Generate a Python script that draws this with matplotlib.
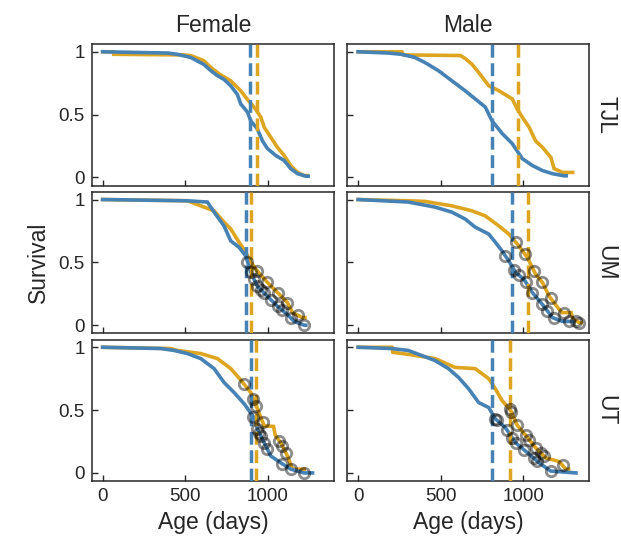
import matplotlib.pyplot as plt
import numpy as np

plt.rcParams['font.family'] = ['Liberation Sans', 'DejaVu Sans']

# colours for the two groups
c_orange = '#DDA520'
c_blue = '#4682B4'
ink = '#262626'

sexes = ['Female', 'Male']
sites = ['TJL', 'UM', 'UT']

# survival curves: age (days), survival
# orange = group A, blue = group B

tjl_f_a_age = [0, 66, 67, 493, 533, 612, 655, 710, 775, 836, 877, 917, 958, 978, 1018, 1058, 1099, 1139, 1180, 1220, 1240]
tjl_f_a_surv = [1, 1, 0.98, 0.975, 0.97, 0.93, 0.875, 0.82, 0.77, 0.69, 0.62, 0.56, 0.48, 0.40, 0.32, 0.24, 0.175, 0.095, 0.04, 0.015, 0.015]
tjl_f_b_age = [0, 394, 452, 533, 612, 655, 695, 735, 775, 816, 836, 877, 897, 937, 968, 998, 1048, 1099, 1139, 1180, 1230, 1245]
tjl_f_b_surv = [1, 0.99, 0.98, 0.955, 0.90, 0.85, 0.81, 0.78, 0.73, 0.66, 0.585, 0.52, 0.45, 0.386, 0.29, 0.23, 0.175, 0.135, 0.07, 0.03, 0.01, 0.01]

tjl_m_a_age = [0, 265, 275, 620, 650, 690, 730, 791, 852, 933, 963, 994, 1035, 1075, 1116, 1167, 1187, 1238, 1299]
tjl_m_a_surv = [1, 1, 0.975, 0.97, 0.945, 0.90, 0.835, 0.73, 0.69, 0.625, 0.545, 0.48, 0.40, 0.29, 0.24, 0.16, 0.07, 0.04, 0.04]
tjl_m_b_age = [0, 181, 262, 343, 404, 486, 567, 648, 709, 770, 811, 872, 933, 994, 1055, 1116, 1177, 1248, 1260]
tjl_m_b_surv = [1, 0.99, 0.98, 0.955, 0.915, 0.85, 0.77, 0.69, 0.625, 0.56, 0.45, 0.35, 0.27, 0.15, 0.095, 0.055, 0.03, 0.013, 0.013]

um_f_a_age = [0, 513, 594, 675, 735, 776, 826, 867, 897, 937, 998, 1059, 1119, 1150, 1210, 1225]
um_f_a_surv = [1, 0.99, 0.95, 0.91, 0.82, 0.765, 0.66, 0.58, 0.50, 0.43, 0.34, 0.26, 0.18, 0.10, 0.06, 0.06]
um_f_b_age = [0, 513, 634, 675, 735, 776, 826, 867, 897, 937, 998, 1059, 1119, 1160, 1220, 1230]
um_f_b_surv = [1, 0.99, 0.98, 0.90, 0.79, 0.67, 0.62, 0.55, 0.42, 0.31, 0.23, 0.15, 0.085, 0.03, 0.0, 0.0]

um_m_a_age = [0, 303, 404, 567, 689, 770, 852, 913, 974, 1024, 1075, 1116, 1157, 1218, 1235, 1290, 1300, 1340, 1350]
um_m_a_surv = [1, 0.99, 0.985, 0.95, 0.91, 0.87, 0.79, 0.725, 0.63, 0.54, 0.405, 0.34, 0.23, 0.125, 0.10, 0.10, 0.05, 0.02, 0.02]
um_m_b_age = [0, 303, 364, 465, 567, 648, 709, 791, 831, 872, 913, 953, 1004, 1055, 1116, 1177, 1238, 1299]
um_m_b_surv = [1, 0.98, 0.965, 0.94, 0.90, 0.845, 0.78, 0.725, 0.66, 0.59, 0.51, 0.42, 0.365, 0.26, 0.165, 0.06, 0.03, 0.03]

ut_f_a_age = [0, 412, 453, 594, 695, 776, 836, 897, 937, 978, 1035, 1045, 1079, 1119, 1150, 1220]
ut_f_a_surv = [1, 0.99, 0.975, 0.95, 0.91, 0.83, 0.74, 0.64, 0.51, 0.375, 0.37, 0.30, 0.24, 0.135, 0.03, 0.03]
ut_f_b_age = [0, 352, 432, 513, 594, 675, 735, 796, 857, 917, 937, 978, 1018, 1079, 1139, 1220, 1271]
ut_f_b_surv = [1, 0.99, 0.975, 0.95, 0.91, 0.83, 0.72, 0.64, 0.55, 0.44, 0.35, 0.24, 0.135, 0.08, 0.03, 0.0, 0.0]

ut_m_a_age = [0, 205, 211, 323, 465, 587, 709, 791, 831, 872, 923, 963, 1014, 1075, 1136, 1218, 1258, 1275]
ut_m_a_surv = [1, 1, 0.96, 0.94, 0.91, 0.84, 0.83, 0.75, 0.67, 0.575, 0.50, 0.38, 0.30, 0.20, 0.12, 0.09, 0.03, 0.03]
ut_m_b_age = [0, 201, 303, 384, 465, 547, 608, 669, 730, 791, 831, 892, 953, 1035, 1096, 1166, 1319]
ut_m_b_surv = [1, 0.99, 0.975, 0.935, 0.895, 0.83, 0.76, 0.67, 0.56, 0.52, 0.43, 0.36, 0.24, 0.15, 0.08, 0.015, 0.0]

# censored ages (circles)
um_f_a_cens = [937, 998, 1059, 1119, 1180]
um_f_b_cens = [877, 897, 917, 937, 958, 978, 1018, 1059, 1089, 1139, 1220]
um_m_a_cens = [953, 1010, 1065, 1116, 1167, 1248, 1319, 1340]
um_m_b_cens = [892, 943, 974, 1014, 1055, 1116, 1146, 1187, 1279]
ut_f_a_cens = [857, 913, 931, 968, 1069, 1089, 1109]
ut_f_b_cens = [913, 937, 948, 958, 978, 998, 1089, 1139, 1220]
ut_m_a_cens = [919, 928, 963, 1014, 1035, 1075, 1106, 1126, 1238]
ut_m_b_cens = [831, 841, 902, 933, 953, 1004, 1065, 1085, 1166]

# median survival (dashed lines)
median_a = [[937, 970], [897, 1029], [931, 917]]
median_b = [[891, 811], [867, 929], [901, 811]]

curves = {
    ('TJL', 'Female'): (tjl_f_a_age, tjl_f_a_surv, tjl_f_b_age, tjl_f_b_surv, [], []),
    ('TJL', 'Male'): (tjl_m_a_age, tjl_m_a_surv, tjl_m_b_age, tjl_m_b_surv, [], []),
    ('UM', 'Female'): (um_f_a_age, um_f_a_surv, um_f_b_age, um_f_b_surv, um_f_a_cens, um_f_b_cens),
    ('UM', 'Male'): (um_m_a_age, um_m_a_surv, um_m_b_age, um_m_b_surv, um_m_a_cens, um_m_b_cens),
    ('UT', 'Female'): (ut_f_a_age, ut_f_a_surv, ut_f_b_age, ut_f_b_surv, ut_f_a_cens, ut_f_b_cens),
    ('UT', 'Male'): (ut_m_a_age, ut_m_a_surv, ut_m_b_age, ut_m_b_surv, ut_m_a_cens, ut_m_b_cens),
}

fig, axes = plt.subplots(3, 2, figsize=(6.21, 5.53), dpi=100, sharex=True, sharey=True)
fig.subplots_adjust(left=0.148, right=0.949, top=0.92, bottom=0.13, wspace=0.056, hspace=0.045)

for i, site in enumerate(sites):
    for j, sex in enumerate(sexes):
        ax = axes[i, j]
        a_age, a_surv, b_age, b_surv, a_cens, b_cens = curves[(site, sex)]
        ax.plot(a_age, a_surv, color=c_orange, lw=2.6, zorder=2, solid_joinstyle='miter')
        ax.plot(b_age, b_surv, color=c_blue, lw=2.6, zorder=3, solid_joinstyle='miter')
        ax.axvline(median_b[i][j], color=c_blue, lw=2.5, ls='--', zorder=4)
        ax.axvline(median_a[i][j], color=c_orange, lw=2.5, ls='--', zorder=4)
        # censor marks sit on their curve
        for ages, surv, cens in [(a_age, a_surv, a_cens), (b_age, b_surv, b_cens)]:
            if cens:
                ax.plot(cens, np.interp(cens, ages, surv), 'o', ms=7.5, mfc='none',
                        mec=(0, 0, 0, 0.45), mew=2, zorder=5)

        ax.set_xlim(-65, 1400)
        ax.set_ylim(-0.065, 1.06)
        ax.set_xticks([0, 500, 1000])
        ax.set_yticks([0, 0.5, 1])
        ax.set_yticklabels(['0', '0.5', '1'])
        ax.tick_params(direction='in', length=4, width=1, colors=ink, labelsize=13.5, pad=5)
        for s in ax.spines.values():
            s.set_color(ink)
            s.set_linewidth(1.1)
        if i == 0:
            ax.set_title(sex, fontsize=16.5, color=ink, pad=9)
        if j == 1:
            ax.text(1.02, 0.5, site, transform=ax.transAxes, rotation=270,
                    va='center', ha='left', fontsize=16.5, color=ink)
        if i == 2:
            ax.set_xlabel('Age (days)', fontsize=16.5, color=ink, labelpad=4)

axes[1, 0].set_ylabel('Survival', fontsize=16.5, color=ink, labelpad=6)

fig.savefig('out.png', dpi=100)
